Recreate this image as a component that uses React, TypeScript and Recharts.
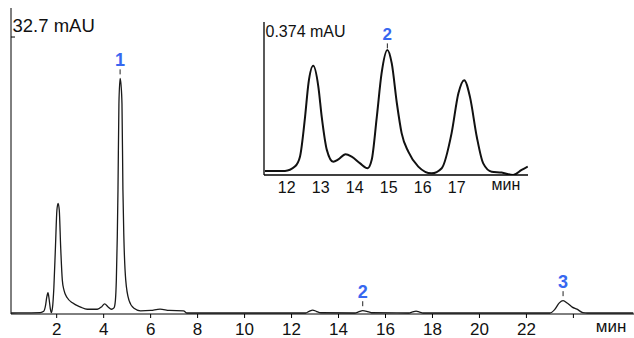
import React from "react";
import { Label, Line, LineChart, ReferenceDot, XAxis, YAxis } from "recharts";

// main chromatogram (time in min, signal in mAU)
const mainTime = [
  0.06, 0.8, 1.3, 1.45, 1.52, 1.58, 1.63, 1.68, 1.73, 1.77, 1.82, 1.88, 1.95, 2.01, 2.06, 2.11, 2.17, 2.24,
  2.31, 2.45, 2.67, 3.02, 3.3, 3.73, 3.92, 4.04, 4.18, 4.33, 4.44, 4.5, 4.54, 4.58, 4.61, 4.65, 4.7, 4.74,
  4.78, 4.82, 4.86, 4.94, 5.08, 5.29, 5.57, 6.0, 6.4, 6.8, 7.4, 7.55, 12.6, 12.75, 12.9, 13.05, 13.25, 14.7,
  14.85, 15.03, 15.2, 15.4, 17.0, 17.15, 17.3, 17.45, 17.6, 23.0, 23.2, 23.4, 23.56, 23.75, 23.95, 24.15,
  24.4, 24.6, 26.55
];
const mainSignal = [
  0, 0.02, 0.05, 0.2, 0.8, 1.9, 2.4, 1.6, 0.5, 0.05, 0.6, 3, 8, 12.2, 13.0, 12.2, 7.8, 3.9,
  2.7, 1.8, 1.2, 0.7, 0.44, 0.44, 0.75, 1.07, 0.75, 0.44, 0.6, 1.5, 3.9, 9, 14.6, 24.8, 27.8, 27.0,
  24.8, 14.6, 9, 3.9, 1.5, 0.55, 0.25, 0.3, 0.45, 0.3, 0.25, 0, 0, 0.2, 0.35, 0.2, 0.03, 0,
  0.12, 0.27, 0.2, 0.03, 0, 0.12, 0.22, 0.1, 0, 0, 0.4, 1.2, 1.46, 1.15, 0.7, 0.45,
  0.05, 0, 0
];
const mainTicks = [2, 4, 6, 8, 10, 12, 14, 16, 18, 20, 22, 24];
const mainPeaks = [
  { name: "1", time: 4.7, signal: 27.8 },
  { name: "2", time: 15.03, signal: 0.27 },
  { name: "3", time: 23.56, signal: 1.46 }
];

// zoomed inset, 11.3 - 19.1 min
const insetTime = [
  11.36, 11.95, 12.24, 12.39, 12.54, 12.64, 12.78, 12.93, 13.03, 13.18, 13.37, 13.52, 13.73, 13.91, 14.16,
  14.38, 14.5, 14.65, 14.79, 14.96, 15.09, 15.24, 15.38, 15.58, 15.87, 16.26, 16.56, 16.85, 17.05, 17.22,
  17.39, 17.59, 17.78, 18.03, 18.32, 18.66, 18.91, 19.09
];
const insetSignal = [
  0, 0, 0.011, 0.036, 0.136, 0.22, 0.264, 0.212, 0.136, 0.053, 0.023, 0.029, 0.042, 0.036, 0.019,
  0.007, 0.028, 0.136, 0.245, 0.304, 0.27, 0.17, 0.095, 0.048, 0.011, -0.006, 0.007, 0.095, 0.195, 0.228,
  0.186, 0.086, 0.019, -0.002, -0.004, -0.01, 0.0025, 0.011
];
const insetTicks = [12, 13, 14, 15, 16, 17];
const insetPeaks = [{ name: "2", time: 14.96, signal: 0.304 }];

const mainData = mainTime.map((t, i) => ({ t, v: mainSignal[i] }));
const insetData = insetTime.map((t, i) => ({ t, v: insetSignal[i] }));

const FONT = "'Liberation Sans', Arial, sans-serif";
const BLUE = "#3767f0";
const MAIN_LEFT = 11;
const INSET_LEFT = 264;

function peakMark(name: string, gap: number, size: number) {
  return (props: any) => {
    const { cx, cy } = props;
    return (
      <g>
        <line x1={cx} x2={cx} y1={cy - gap - 5} y2={cy - gap} stroke="#222" strokeWidth={1} />
        <text x={cx} y={cy - gap - 8} textAnchor="middle" fontFamily={FONT} fontWeight="bold" fontSize={size} fill={BLUE}>
          {name}
        </text>
      </g>
    );
  };
}

export default function App() {
  return (
    <div style={{ position: "fixed", left: 0, top: 0, width: 634, height: 338, background: "#fff" }}>
      <LineChart width={634} height={338} data={mainData} margin={{ top: 8, right: 0, bottom: 0, left: MAIN_LEFT - 1 }}>
        <XAxis
          dataKey="t"
          type="number"
          domain={[0.055, 26.58]}
          allowDataOverflow
          ticks={mainTicks}
          height={24}
          axisLine={{ stroke: "#000" }}
          tickLine={{ stroke: "#000" }}
          tickSize={4}
          tick={(p: any) =>
            p.payload.value === 24 ? <g /> : (
              <text x={p.x} y={335} textAnchor="middle" fontFamily={FONT} fontSize={17} fill="#111">
                {p.payload.value}
              </text>
            )
          }
        >
          <Label
            content={() => (
              <text x={611} y={332} textAnchor="middle" fontFamily={FONT} fontSize={17} fill="#111">
                мин
              </text>
            )}
          />
        </XAxis>
        <YAxis
          type="number"
          domain={[-0.12, 36.14]}
          allowDataOverflow
          width={1}
          ticks={[32.7]}
          axisLine={{ stroke: "#000" }}
          tickLine={false}
          tick={(p: any) => (
            <g>
              <line x1={MAIN_LEFT} x2={MAIN_LEFT + 4} y1={p.y} y2={p.y} stroke="#000" />
              <text x={MAIN_LEFT + 1.5} y={p.y - 5.5} fontFamily={FONT} fontSize={18.5} fill="#111">
                {p.payload.value} mAU
              </text>
            </g>
          )}
        />
        <Line dataKey="v" type="monotone" stroke="#1a1a1a" strokeWidth={1.3} dot={false} isAnimationActive={false} />
        {mainPeaks.map((p) => (
          <ReferenceDot key={p.name} x={p.time} y={p.signal} r={0} shape={peakMark(p.name, p.signal > 5 ? 4 : 4.5, 18)} />
        ))}
      </LineChart>

      <div style={{ position: "absolute", left: 0, top: 0 }}>
        <LineChart width={534} height={200} data={insetData} margin={{ top: 22, right: 6, bottom: 0, left: INSET_LEFT - 1 }}>
          <XAxis
            dataKey="t"
            type="number"
            domain={[11.332, 19.097]}
            allowDataOverflow
            ticks={insetTicks}
            height={25}
            axisLine={{ stroke: "#000", strokeWidth: 1.3 }}
            tickLine={false}
            tick={(p: any) => (
              <text x={p.x} y={193} textAnchor="middle" fontFamily={FONT} fontSize={16} fill="#111">
                {p.payload.value}
              </text>
            )}
          >
            <Label
              content={() => (
                <text x={506} y={190} textAnchor="middle" fontFamily={FONT} fontSize={16} fill="#111">
                  мин
                </text>
              )}
            />
          </XAxis>
          <YAxis
            type="number"
            domain={[-0.0101, 0.374]}
            allowDataOverflow
            width={1}
            ticks={[0.374]}
            axisLine={{ stroke: "#000", strokeWidth: 1.3 }}
            tickLine={false}
            tick={(p: any) => (
              <text x={INSET_LEFT + 1.5} y={p.y + 15} fontFamily={FONT} fontSize={16} fill="#111">
                {p.payload.value} mAU
              </text>
            )}
          />
          <Line dataKey="v" type="monotone" stroke="#111" strokeWidth={2} dot={false} isAnimationActive={false} />
          {insetPeaks.map((p) => (
            <ReferenceDot key={p.name} x={p.time} y={p.signal} r={0} shape={peakMark(p.name, 1.5, 17)} />
          ))}
        </LineChart>
      </div>
    </div>
  );
}
